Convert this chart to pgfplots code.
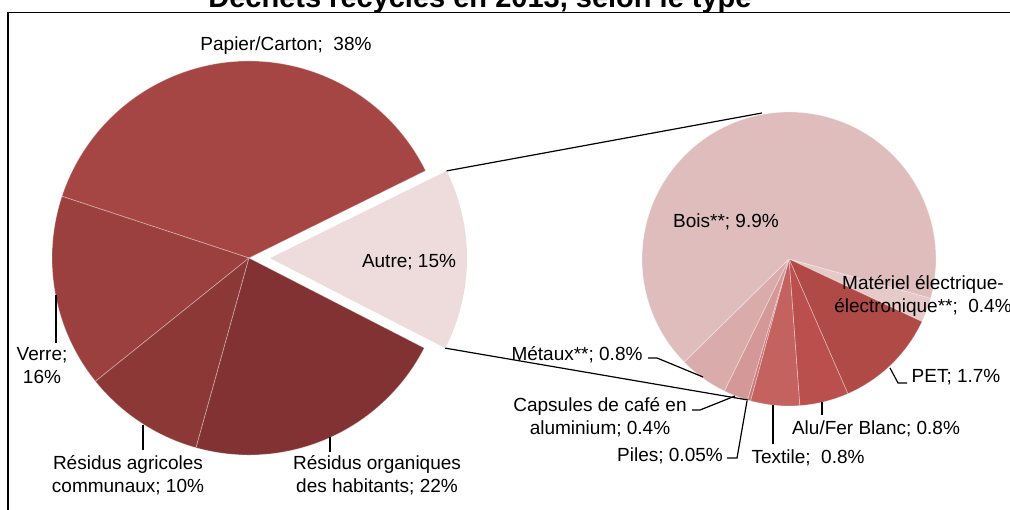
\documentclass[border=0pt]{standalone}
\usepackage{pgfplots}
\pgfplotsset{compat=1.18}
\usepackage{pgfplotstable}
\usepackage{fontspec}
\setmainfont{Liberation Sans}

% main pie
\definecolor{mc0}{HTML}{A64644}
\definecolor{mc1}{HTML}{9B403E}
\definecolor{mc2}{HTML}{8C3836}
\definecolor{mc3}{HTML}{823232}
\definecolor{mc4}{HTML}{EEDCDC}
% second pie (detail of "Autre")
\definecolor{sc0}{HTML}{E6C9C9}
\definecolor{sc1}{HTML}{B04A47}
\definecolor{sc2}{HTML}{BA4F4D}
\definecolor{sc3}{HTML}{C3625F}
\definecolor{sc4}{HTML}{C97775}
\definecolor{sc5}{HTML}{D49898}
\definecolor{sc6}{HTML}{DAABAB}
\definecolor{sc7}{HTML}{E0BDBD}

\pgfplotstableread{
name pct
Papier 38
Verre 16
Agricoles 10
Organiques 22
Autre 15
}\maintable

\pgfplotstableread{
name pct
Materiel 0.4
PET 1.7
Alu 0.8
Textile 0.8
Piles 0.05
Capsules 0.4
Metaux 0.8
Bois 9.9
}\subtable

% start/end angle of each slice: table, prefix, last row, start angle, direction
\newcommand\pieangles[5]{%
  \gdef\pietotal{0}%
  \foreach \i in {0,...,#3}{%
    \pgfplotstablegetelem{\i}{pct}\of#1%
    \pgfmathparse{\pietotal+\pgfplotsretval}\xdef\pietotal{\pgfmathresult}}%
  \gdef\pieacc{#4}%
  \foreach \i in {0,...,#3}{%
    \pgfplotstablegetelem{\i}{pct}\of#1%
    \expandafter\xdef\csname #2s\i\endcsname{\pieacc}%
    \pgfmathparse{\pieacc+(#5)*\pgfplotsretval/\pietotal*360}\xdef\pieacc{\pgfmathresult}%
    \expandafter\xdef\csname #2e\i\endcsname{\pieacc}}%
}
\pieangles{\maintable}{m}{4}{26.3}{1}
\pieangles{\subtable}{s}{7}{-15.5}{-1}
\pgfmathsetmacro\automid{(\csname ms4\endcsname+\csname me4\endcsname)/2}

\tikzset{
  lbl/.style={font=\fontsize{9.5}{11.5}\selectfont, align=center, inner sep=0pt, text=black},
  lead/.style={black, line width=0.6pt},
  sep/.style={draw=white, draw opacity=0.35, line width=0.4pt},
}

\begin{document}
\begin{tikzpicture}
\begin{axis}[
  x=0.5pt, y=0.5pt,
  xmin=0, xmax=1010, ymin=0, ymax=509,
  hide axis, clip=false,
]
% main pie, Autre pulled out
\pgfplotsinvokeforeach{0,...,3}{%
  \edef\temp{\noexpand\fill[mc#1, sep] (axis cs:249,251) -- ++(\csname ms#1\endcsname:98.5pt)
    arc[start angle=\csname ms#1\endcsname, end angle=\csname me#1\endcsname, radius=98.5pt] -- cycle;}\temp
}
\edef\temp{\noexpand\fill[mc4] (axis cs:249,251) ++(\automid:10.5pt) -- ++(\csname ms4\endcsname:98.5pt)
  arc[start angle=\csname ms4\endcsname, end angle=\csname me4\endcsname, radius=98.5pt] -- cycle;}\temp

% second pie
\pgfplotsinvokeforeach{0,...,7}{%
  \edef\temp{\noexpand\fill[sc#1, sep] (axis cs:789,250) -- ++(\csname ss#1\endcsname:73.5pt)
    arc[start angle=\csname ss#1\endcsname, end angle=\csname se#1\endcsname, radius=73.5pt] -- cycle;}\temp
}

% connector lines
\edef\temp{\noexpand\draw[lead] (axis cs:249,251) ++(\automid:10.5pt) ++(\csname me4\endcsname:98.5pt) -- (axis cs:762,396);}\temp
\edef\temp{\noexpand\draw[lead] (axis cs:249,251) ++(\automid:10.5pt) ++(\csname ms4\endcsname:98.5pt) -- (axis cs:748,109);}\temp

% frame and title
\draw[black, line width=0.8pt] (axis cs:8,-10) -- (axis cs:8,496.5) -- (axis cs:1020,496.5);
\node[anchor=base, inner sep=0pt, font=\bfseries\fontsize{14.5}{17}\selectfont] at (axis cs:480,501) {Déchets recyclés en 2013, selon le type};

% labels, main pie
\node[lbl] at (axis cs:286,463) {Papier/Carton;~~38\%};
\node[lbl] at (axis cs:409,247) {Autre; 15\%};
\node[lbl] at (axis cs:42,143) {Verre;\\16\%};
\node[lbl] at (axis cs:128,34) {Résidus agricoles\\communaux; 10\%};
\node[lbl] at (axis cs:377,34) {Résidus organiques\\des habitants; 22\%};
\draw[lead] (axis cs:56,214) -- (axis cs:56,166);
\draw[lead] (axis cs:143,84) -- (axis cs:143,59);
\draw[lead] (axis cs:330,72) -- (axis cs:330,57);

% labels, second pie
\node[lbl] at (axis cs:726,287) {Bois**; 9.9\%};
\node[lbl] at (axis cs:923,213.5) {Matériel électrique-\\électronique**;~~0.4\%};
\node[lbl] at (axis cs:956,132) {PET; 1.7\%};
\node[lbl] at (axis cs:876,80) {Alu/Fer Blanc; 0.8\%};
\node[lbl] at (axis cs:808,51) {Textile;~~0.8\%};
\node[lbl] at (axis cs:670,53) {Piles; 0.05\%};
\node[lbl] at (axis cs:600,91.5) {Capsules de café en\\aluminium; 0.4\%};
\node[lbl] at (axis cs:577,154) {Métaux**; 0.8\%};
\draw[lead] (axis cs:890,141) -- (axis cs:898,126) -- (axis cs:907,126);
\draw[lead] (axis cs:822,107) -- (axis cs:822,94);
\draw[lead] (axis cs:773,104) -- (axis cs:773,65);
\draw[lead] (axis cs:727,51) -- (axis cs:737,51) -- (axis cs:747,108);
\draw[lead] (axis cs:692,99) -- (axis cs:700,99) -- (axis cs:735,113);
\draw[lead] (axis cs:648,151) -- (axis cs:657,151) -- (axis cs:703,132);
\end{axis}
\pgfresetboundingbox
\path[use as bounding box] (current axis.south west) rectangle (current axis.north east);
\end{tikzpicture}
\end{document}
